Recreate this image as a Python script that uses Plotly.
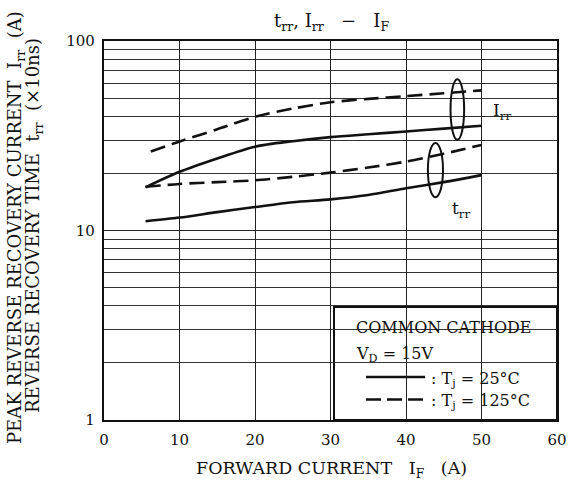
import plotly.graph_objects as go

# ---- data ----
x_irr25 = [5.5, 10, 15, 20, 25, 30, 35, 40, 45, 50]
irr25 = [16.9, 20.4, 24.0, 27.7, 29.6, 31.1, 32.2, 33.3, 34.5, 35.7]

x_irr125 = [6.2, 10, 15, 20, 25, 30, 35, 40, 45, 50]
irr125 = [26.1, 29.5, 34.2, 39.8, 44.0, 47.5, 49.5, 51.2, 53.0, 54.9]

x_trr125 = [5.5, 10, 15, 20, 25, 30, 35, 40, 45, 50]
trr125 = [17.0, 17.6, 18.0, 18.4, 19.2, 20.2, 21.5, 23.1, 25.4, 28.3]

x_trr25 = [5.5, 10, 15, 20, 25, 30, 35, 40, 45, 50]
trr25 = [11.2, 11.7, 12.5, 13.3, 14.1, 14.6, 15.4, 16.7, 18.0, 19.6]

x_ticks = [0, 10, 20, 30, 40, 50, 60]
y_ticks = [1, 10, 100]
y_minor = [m * d for d in (1, 10) for m in range(2, 10)]

FONT = "DejaVu Serif"
BLACK = "#111111"

fig = go.Figure()

def add_curve(xs, ys, dash):
    fig.add_trace(go.Scatter(
        x=xs, y=ys, mode="lines",
        line=dict(color=BLACK, width=2.6, dash=dash, shape="spline", smoothing=0.8),
        showlegend=False, hoverinfo="skip"))

add_curve(x_irr25, irr25, "solid")
add_curve(x_irr125, irr125, "15px,7px")
add_curve(x_trr125, trr125, "15px,7px")
add_curve(x_trr25, trr25, "solid")

# plot geometry in pixels (for paper-coordinate decorations)
L, R, T, B = 104, 557, 41, 420
W, H = R - L, B - T
def px(xp):
    return (xp - L) / W
def py(yp):
    return (B - yp) / H

shapes = []
# ellipses grouping the curves
shapes.append(dict(type="circle", xref="x", yref="y", x0=45.9, x1=47.7, y0=30.1, y1=62.8,
                   line=dict(color=BLACK, width=2), layer="above"))
shapes.append(dict(type="circle", xref="x", yref="y", x0=42.9, x1=44.9, y0=15.0, y1=29.0,
                   line=dict(color=BLACK, width=2), layer="above"))
# white gap behind the Irr label
shapes.append(dict(type="rect", xref="paper", yref="paper", x0=px(486.5), x1=px(515),
                   y0=py(123), y1=py(94), fillcolor="white", line=dict(width=0), layer="below"))
# legend box
shapes.append(dict(type="rect", xref="paper", yref="paper", x0=px(334), x1=1, y0=0, y1=py(307),
                   fillcolor="white", line=dict(color=BLACK, width=2), layer="below"))
# legend sample lines
shapes.append(dict(type="line", xref="paper", yref="paper", x0=px(366), x1=px(425),
                   y0=py(377), y1=py(377), line=dict(color=BLACK, width=2.6)))
shapes.append(dict(type="line", xref="paper", yref="paper", x0=px(366), x1=px(425),
                   y0=py(399.5), y1=py(399.5), line=dict(color=BLACK, width=2.6, dash="15px,6px")))

NB = "\u00a0"
def ann(text, x, y, size, xanchor="center", **kw):
    d = dict(text=text, x=px(x), y=py(y), xref="paper", yref="paper", showarrow=False,
             xanchor=xanchor, yanchor="middle",
             font=dict(family=FONT, size=size, color=BLACK))
    d.update(kw)
    return d

annotations = [
    ann("t<sub>rr</sub>, I<sub>rr</sub>" + NB * 3 + "\u2212" + NB * 3 + "I<sub>F</sub>",
        331, 22, 18),
    ann("FORWARD CURRENT" + NB * 3 + "I<sub>F</sub>" + NB * 3 + "(A)", 331, 469, 17.5),
    ann("PEAK REVERSE RECOVERY CURRENT" + NB * 2 + "I<sub>rr</sub>" + NB * 2 + "(A)",
        16, 228, 18, textangle=-90),
    ann("REVERSE RECOVERY TIME" + NB * 2 + "t<sub>rr</sub>" + NB * 2 + "(\u00d710ns)",
        34, 226, 18, textangle=-90),
    ann("I<sub>rr</sub>", 502, 112, 17),
    ann("t<sub>rr</sub>", 461, 209, 17),
    ann("COMMON CATHODE", 354, 327, 16, xanchor="left"),
    ann("V<sub>D</sub> = 15V", 354, 354, 16, xanchor="left"),
    ann(": T<sub>j</sub> = 25\u00b0C", 429, 379, 16, xanchor="left"),
    ann(": T<sub>j</sub> = 125\u00b0C", 429, 401, 16, xanchor="left"),
]

fig.update_layout(
    width=570, height=483, autosize=False,
    margin=dict(l=L, r=570 - R, t=T, b=483 - B, pad=0),
    paper_bgcolor="white", plot_bgcolor="white",
    shapes=shapes, annotations=annotations,
    showlegend=False,
)
fig.update_xaxes(
    range=[0, 60], tickvals=x_ticks, ticktext=[str(v) for v in x_ticks],
    automargin=False,
    showgrid=True, gridcolor="#222222", gridwidth=1.2,
    showline=True, linecolor=BLACK, linewidth=2.2, mirror=True,
    ticks="", zeroline=False, ticklabelstandoff=5,
    tickfont=dict(family=FONT, size=15, color=BLACK),
)
fig.update_yaxes(
    type="log", range=[0, 2], tickvals=y_ticks, ticktext=[str(v) for v in y_ticks],
    automargin=False,
    showgrid=True, gridcolor="#222222", gridwidth=1.2,
    minor=dict(tickvals=y_minor, showgrid=True, gridcolor="#333333", gridwidth=1, ticks=""),
    showline=True, linecolor=BLACK, linewidth=2.2, mirror=True,
    ticks="", zeroline=False, ticklabelstandoff=4,
    tickfont=dict(family=FONT, size=15, color=BLACK),
)

fig.write_html(
    "out.html",
    config={"responsive": False, "displayModeBar": False},
    post_script="document.body.style.margin='0';document.body.style.overflow='hidden';",
)
